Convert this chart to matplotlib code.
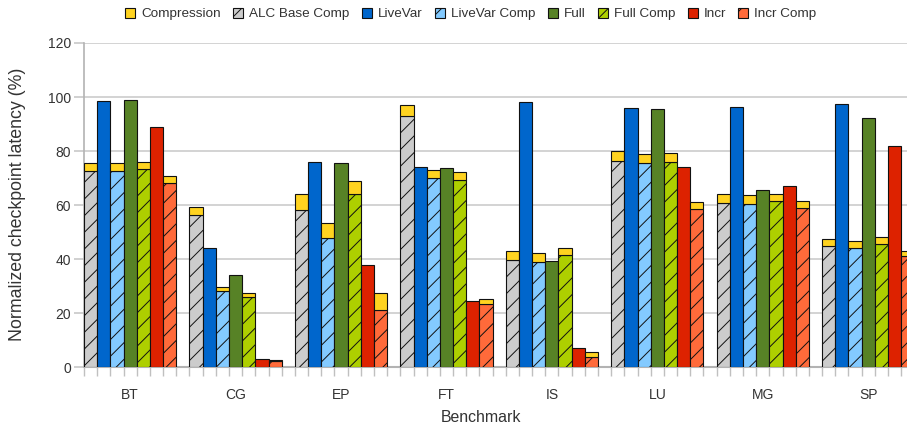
import matplotlib
matplotlib.use("Agg")
import matplotlib.pyplot as plt
import numpy as np
from matplotlib.patches import Patch
from matplotlib.ticker import MultipleLocator, FixedLocator

plt.rcParams['font.family'] = ['Liberation Sans', 'DejaVu Sans']
plt.rcParams['hatch.linewidth'] = 0.7

benchmarks = ["BT", "CG", "EP", "FT", "IS", "LU", "MG", "SP"]

# ALC Base Comp: base (hatched) and total with compression
alc_base = [72.8, 56.4, 58.3, 93.1, 39.7, 76.4, 60.7, 44.8]
alc_total = [75.7, 59.5, 64.3, 97.0, 43.0, 80.1, 64.1, 47.3]
livevar = [98.5, 44.1, 76.1, 74.2, 98.3, 95.9, 96.4, 97.4]
livevar_comp = [72.6, 28.4, 47.8, 69.9, 39.0, 75.5, 60.4, 44.2]
livevar_comp_total = [75.5, 29.7, 53.3, 73.1, 42.2, 78.9, 63.7, 46.7]
full = [98.9, 34.1, 75.5, 73.6, 39.4, 95.5, 65.6, 92.2]
full_comp = [73.3, 26.0, 64.1, 69.4, 41.6, 75.8, 61.5, 45.7]
full_comp_total = [76.0, 27.5, 69.0, 72.2, 44.1, 79.3, 64.1, 48.1]
incr = [88.9, 3.0, 37.9, 24.4, 7.1, 74.1, 67.0, 81.9]
incr_comp = [68.1, 2.2, 21.2, 23.3, 3.9, 58.5, 58.9, 41.0]
incr_comp_total = [70.7, 2.6, 27.6, 25.3, 5.5, 61.1, 61.6, 43.0]

c_comp = "#ffd320"
series = [
    ("ALC Base Comp", alc_base, alc_total, "#cccccc", "//"),
    ("LiveVar", livevar, None, "#0066cc", None),
    ("LiveVar Comp", livevar_comp, livevar_comp_total, "#83caff", "//"),
    ("Full", full, None, "#578226", None),
    ("Full Comp", full_comp, full_comp_total, "#aecf00", "//"),
    ("Incr", incr, None, "#dd2200", None),
    ("Incr Comp", incr_comp, incr_comp_total, "#ff6a3a", "//"),
]

W, H = 907, 430
fig = plt.figure(figsize=(W / 100, H / 100), dpi=100)
x0, y0, ytop = 84, 367.3, 43
barw = 13.18
ax = fig.add_axes([x0 / W, 1 - y0 / H, (W - x0) / W, (y0 - ytop) / H])
ax.set_xlim(0, (W - x0) / barw)
ax.set_ylim(0, 120)

group = np.arange(len(benchmarks)) * 8
ec = "#111111"
for k, (name, vals, tot, col, hatch) in enumerate(series):
    xs = group + k + 0.5
    ax.bar(xs, vals, width=1, color=col, edgecolor=ec, linewidth=0.8,
           hatch=hatch, zorder=3)
    if tot is not None:
        extra = np.array(tot) - np.array(vals)
        ax.bar(xs, extra, bottom=vals, width=1, color=c_comp, edgecolor=ec,
               linewidth=0.8, zorder=3)

txt = "#333333"
ax.set_yticks(range(0, 121, 20))
ax.yaxis.grid(True, color="#cccccc", linewidth=1.2, zorder=0)
ax.set_axisbelow(True)
for s in ["top", "right"]:
    ax.spines[s].set_visible(False)
ax.spines["left"].set_color("#b3b3b3")
ax.spines["bottom"].set_color("#b3b3b3")
ax.spines["left"].set_linewidth(1.2)
ax.spines["bottom"].set_linewidth(1.5)
ax.tick_params(axis="y", length=7.2, color="#c8c8c8", width=1.2,
               labelsize=10, labelcolor=txt, pad=2)
ax.xaxis.set_major_locator(FixedLocator(group + 3.5))
ax.set_xticklabels(benchmarks)
ax.xaxis.set_minor_locator(MultipleLocator(1))
ax.tick_params(axis="x", which="major", length=0, labelsize=10,
               labelcolor=txt, pad=15)
ax.tick_params(axis="x", which="minor", length=6.5, color="#c0c0c0", width=1)

fig.text(481 / W, 1 - 417 / H, "Benchmark", ha="center", va="center",
         fontsize=11.4, color=txt)
fig.text(18 / W, 1 - 204 / H, "Normalized checkpoint latency (%)",
         rotation=90, ha="center", va="center", fontsize=12.8, color=txt)

handles = [Patch(facecolor=c_comp, edgecolor=ec, linewidth=0.8, label="Compression")]
for name, vals, tot, col, hatch in series:
    handles.append(Patch(facecolor=col, edgecolor=ec, linewidth=0.8,
                         hatch=hatch, label=name))
fig.legend(handles=handles, loc="center", bbox_to_anchor=(471 / W, 1 - 14 / H),
           ncol=8, frameon=False, fontsize=9.7, handlelength=0.75,
           handleheight=0.75, handletextpad=0.45, columnspacing=0.9,
           labelcolor=txt, borderpad=0)

fig.savefig("out.png", dpi=100)
